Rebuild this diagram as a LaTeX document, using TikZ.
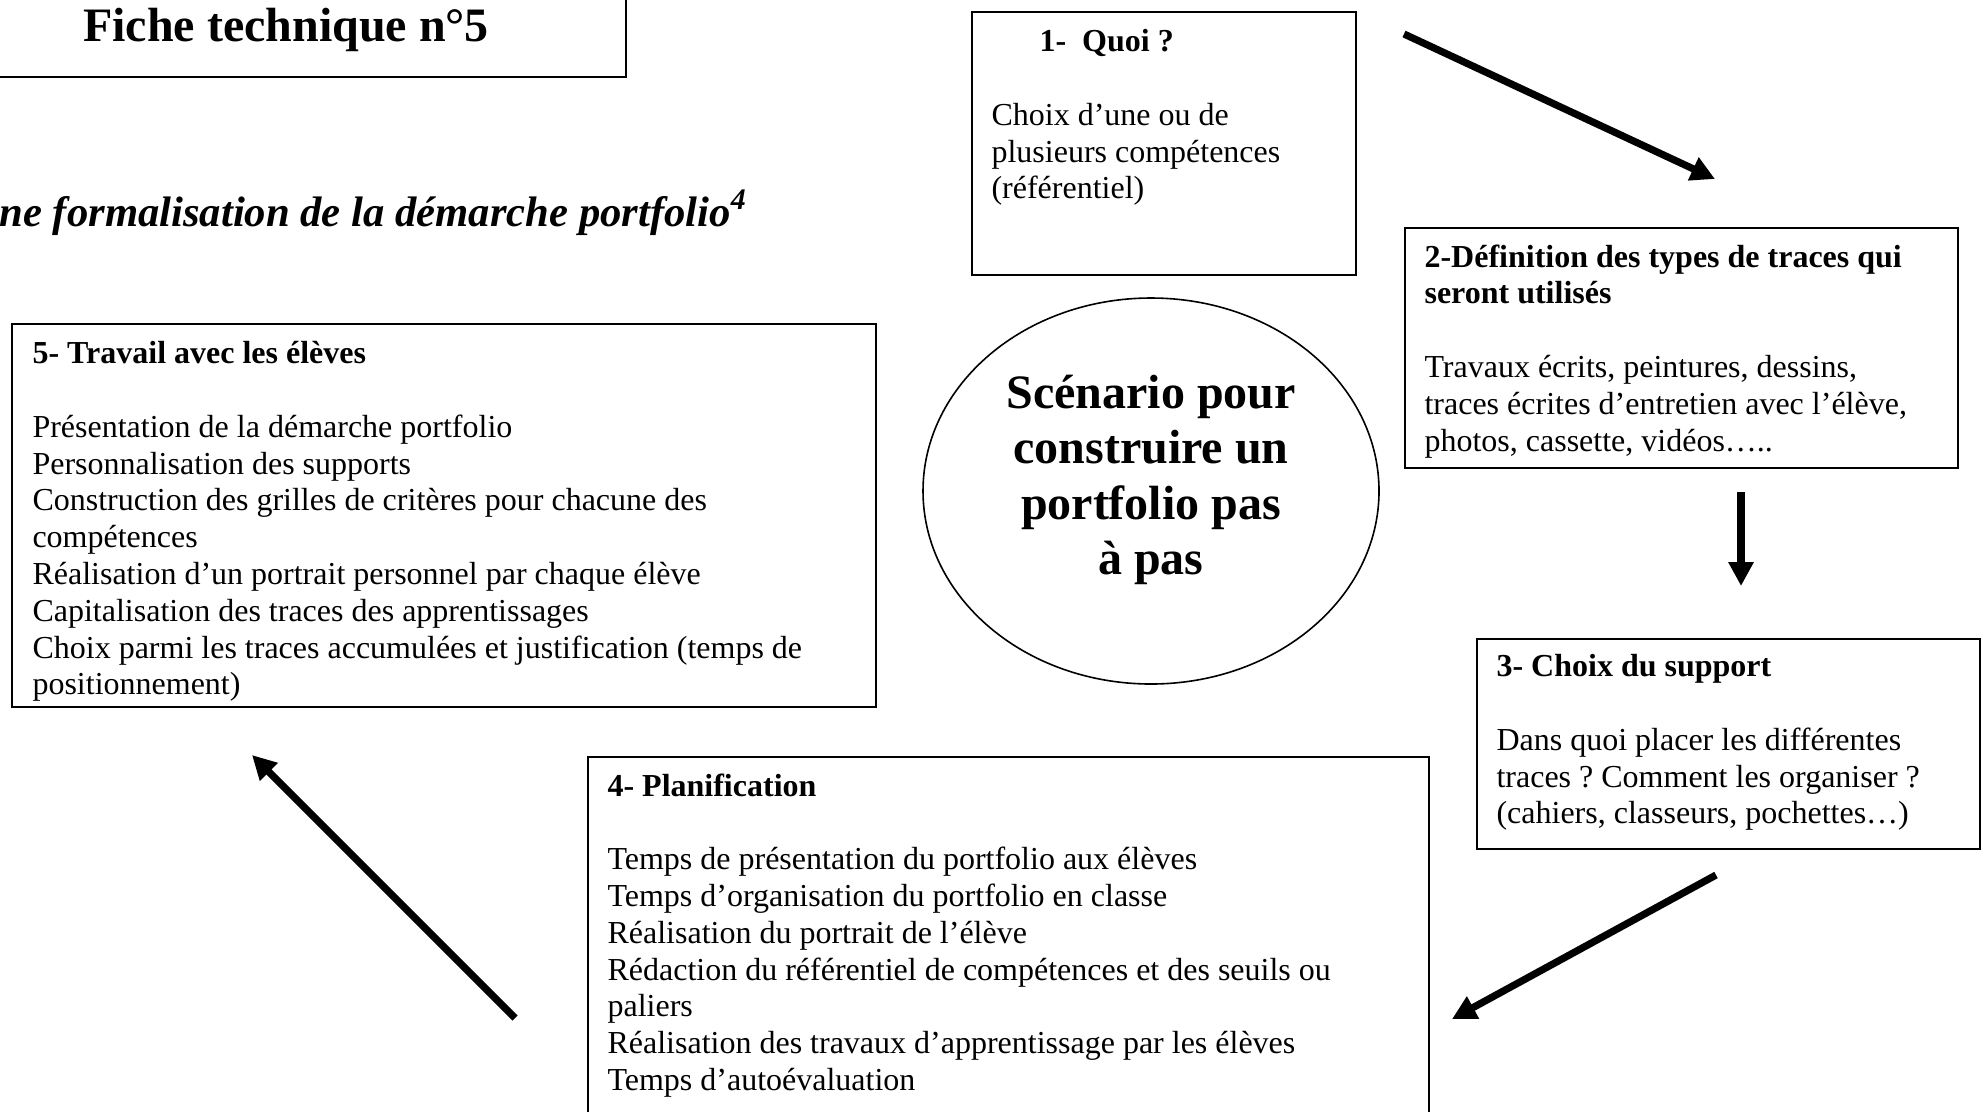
\documentclass[tikz,border=0pt]{standalone}
\usepackage{fontspec}
\setmainfont{Liberation Serif}
\frenchspacing
\usetikzlibrary{arrows.meta,shapes.geometric}

\begin{document}
\begin{tikzpicture}[x=0.375pt,y=-0.375pt,
    stepbox/.style={draw,line width=0.7pt,inner sep=0pt,anchor=north west},
    steptext/.style={anchor=north west,align=left,inner sep=0pt,font=\fontsize{12}{13.8}\selectfont},
    flowarrow/.style={line width=2.7pt,-{Triangle[length=9pt,width=9pt]}}]
    \useasboundingbox (0,0) rectangle (1988,1111);

    % title and subtitle
    \node[draw,line width=0.9pt,minimum width=680*0.375pt,minimum height=94*0.375pt,
        font=\fontsize{18}{20.7}\selectfont\bfseries] (fiche) at (286,30) {Fiche technique n°5};
    \node[anchor=west,inner sep=0pt,font=\fontsize{16}{18.4}\selectfont\bfseries\itshape]
        (formal) at (-1,213) {ne formalisation de la démarche portfolio\textsuperscript{4}};

    % the five steps
    \node[stepbox,minimum width=384*0.375pt,minimum height=263*0.375pt] (quoi) at (971,11) {};
    \node[steptext] (quoi-txt) at (991,29) {\hspace{18pt}\textbf{1-\ \ Quoi ?}\\[13.8pt]
        Choix d’une ou de\\ plusieurs compétences\\ (référentiel)};

    \node[stepbox,minimum width=553*0.375pt,minimum height=240*0.375pt] (traces) at (1404,227) {};
    \node[steptext] (traces-txt) at (1424,244) {\textbf{2-Définition des types de traces qui}\\
        \textbf{seront utilisés}\\[13.8pt]
        Travaux écrits, peintures, dessins,\\
        traces écrites d’entretien avec l’élève,\\
        photos, cassette, vidéos…..};

    \node[stepbox,minimum width=503*0.375pt,minimum height=210*0.375pt] (support) at (1476,638) {};
    \node[steptext] (support-txt) at (1496,654) {\textbf{3- Choix du support}\\[13.8pt]
        Dans quoi placer les différentes\\
        traces ? Comment les organiser ?\\
        (cahiers, classeurs, pochettes…)};

    \node[stepbox,minimum width=841*0.375pt,minimum height=380*0.375pt] (planif) at (587,756) {};
    \node[steptext] (planif-txt) at (607,773) {\textbf{4- Planification}\\[13.8pt]
        Temps de présentation du portfolio aux élèves\\
        Temps d’organisation du portfolio en classe\\
        Réalisation du portrait de l’élève\\
        Rédaction du référentiel de compétences et des seuils ou\\
        paliers\\
        Réalisation des travaux d’apprentissage par les élèves\\
        Temps d’autoévaluation};

    \node[stepbox,minimum width=864*0.375pt,minimum height=383*0.375pt] (travail) at (11,323) {};
    \node[steptext] (travail-txt) at (32,341) {\textbf{5- Travail avec les élèves}\\[13.8pt]
        Présentation de la démarche portfolio\\
        Personnalisation des supports\\
        Construction des grilles de critères pour chacune des\\
        compétences\\
        Réalisation d’un portrait personnel par chaque élève\\
        Capitalisation des traces des apprentissages\\
        Choix parmi les traces accumulées et justification (temps de\\
        positionnement)};

    % centre
    \node[ellipse,draw,line width=0.6pt,minimum width=456*0.375pt,minimum height=386*0.375pt,
        inner sep=0pt] (scenario) at (1151,491) {};
    \node[align=center,inner sep=0pt,font=\fontsize{18}{20.7}\selectfont\bfseries]
        (scenario-txt) at (1151,480) {Scénario pour\\ construire un\\ portfolio pas\\ à pas};

    % arrows
    \coordinate (quoi-out) at (1404,34);
    \coordinate (traces-in) at (1715,179);
    \coordinate (traces-out) at (1741,492);
    \coordinate (support-in) at (1741,586);
    \coordinate (support-out) at (1716,875);
    \coordinate (planif-in) at (1452,1019);
    \coordinate (planif-out) at (515,1018);
    \coordinate (travail-in) at (252,755);
    \draw[flowarrow] (quoi-out) -- (traces-in);
    \draw[flowarrow] (traces-out) -- (support-in);
    \draw[flowarrow] (support-out) -- (planif-in);
    \draw[flowarrow] (planif-out) -- (travail-in);
\end{tikzpicture}
\end{document}
